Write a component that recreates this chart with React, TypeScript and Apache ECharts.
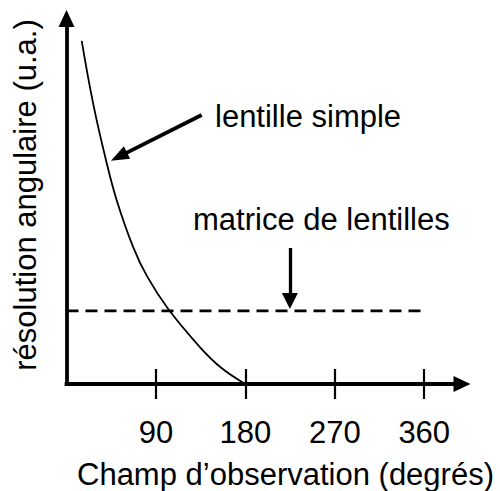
import { useEffect, useRef } from "react";
import * as echarts from "echarts";

// ---- data ----
const curveX = [15.3, 27.0, 39.7, 50.5, 66.9, 81.0, 102.4, 134.2, 155.0, 180];
const curveY = [93.9, 76.5, 61.3, 50.3, 37.6, 29.5, 20.5, 10.1, 4.6, 0];
const arrayX = [0, 360];
const arrayY = [20, 20];
const tickValues = [90, 180, 270, 360];
const singleArrowFrom = [136, 73.6];
const singleArrowTo = [52.8, 62.2];
const arrayArrowFrom = [224.8, 37.2];
const arrayArrowTo = [224.8, 22.7];
const xTitle = "Champ d\u2019observation (degrés)";
const yTitle = "résolution angulaire (u.a.)";
const singleLabel = "lentille simple";
const arrayLabel = "matrice de lentilles";

const FONT = "'Liberation Sans', Arial, sans-serif";
const FS = 31;

export default function App() {
  const ref = useRef<HTMLDivElement>(null);
  useEffect(() => {
    if (!ref.current) return;
    const chart = echarts.init(ref.current, null, { renderer: "svg" });
    const grid = { left: 66.5, right: 38, top: 18.5, bottom: 107 };
    const xCommon = { type: "value", min: 0, max: 398, splitLine: { show: false } };
    const yCommon = { type: "value", min: 0, max: 100, splitLine: { show: false } };
    chart.setOption({
      animation: false,
      backgroundColor: "#ffffff",
      grid: [grid, grid],
      xAxis: [
        {
          ...xCommon,
          gridIndex: 0,
          axisLine: {
            show: true,
            symbol: ["none", "triangle"],
            symbolSize: [16, 17],
            lineStyle: { color: "#000", width: 3.8, cap: "square" },
          },
          axisTick: {
            show: true,
            inside: false,
            length: 15,
            customValues: tickValues,
            lineStyle: { color: "#000", width: 2.2 },
          },
          axisLabel: {
            show: true,
            margin: 33,
            customValues: tickValues,
            color: "#000",
            fontSize: FS,
            fontFamily: FONT,
          },
        },
        {
          ...xCommon,
          gridIndex: 1,
          axisLine: { show: false },
          axisTick: {
            show: true,
            inside: true,
            length: 15,
            customValues: tickValues,
            lineStyle: { color: "#000", width: 2.2 },
          },
          axisLabel: { show: false },
        },
      ],
      yAxis: [
        {
          ...yCommon,
          gridIndex: 0,
          axisLine: {
            show: true,
            symbol: ["none", "triangle"],
            symbolSize: [16, 17],
            lineStyle: { color: "#000", width: 3.8, cap: "square" },
          },
          axisTick: { show: false },
          axisLabel: { show: false },
        },
        { ...yCommon, gridIndex: 1, show: false },
      ],
      series: [
        {
          type: "line",
          xAxisIndex: 0,
          yAxisIndex: 0,
          data: curveX.map((x, i) => [x, curveY[i]]),
          smooth: 0.4,
          showSymbol: false,
          symbol: "none",
          lineStyle: { color: "#000", width: 1.8 },
          silent: true,
          markLine: {
            silent: true,
            animation: false,
            label: { show: false },
            data: [
              [
                {
                  coord: singleArrowFrom,
                  symbol: "none",
                  lineStyle: { color: "#000", width: 3.8, type: "solid" },
                },
                { coord: singleArrowTo, symbol: "triangle", symbolSize: [14, 18] },
              ],
              [
                {
                  coord: arrayArrowFrom,
                  symbol: "none",
                  lineStyle: { color: "#000", width: 3.3, type: "solid" },
                },
                { coord: arrayArrowTo, symbol: "triangle", symbolSize: [16, 16] },
              ],
            ],
          },
        },
        {
          type: "line",
          xAxisIndex: 0,
          yAxisIndex: 0,
          data: arrayX.map((x, i) => [x, arrayY[i]]),
          showSymbol: false,
          symbol: "none",
          lineStyle: { color: "#000", width: 2.8, type: [12, 7] },
          silent: true,
        },
      ],
      graphic: [
        {
          type: "text",
          x: 215,
          y: 116.3,
          style: {
            text: singleLabel,
            fill: "#000",
            font: `${FS}px ${FONT}`,
            textAlign: "left",
            textVerticalAlign: "middle",
          },
        },
        {
          type: "text",
          x: 193,
          y: 219.3,
          style: {
            text: arrayLabel,
            fill: "#000",
            font: `${FS}px ${FONT}`,
            textAlign: "left",
            textVerticalAlign: "middle",
          },
        },
        {
          type: "text",
          x: 285.5,
          y: 474.3,
          style: {
            text: xTitle,
            fill: "#000",
            font: `${FS}px ${FONT}`,
            textAlign: "center",
            textVerticalAlign: "middle",
          },
        },
        {
          type: "text",
          x: 25.3,
          y: 195,
          rotation: Math.PI / 2,
          style: {
            text: yTitle,
            fill: "#000",
            font: `${FS}px ${FONT}`,
            textAlign: "center",
            textVerticalAlign: "middle",
          },
        },
      ],
    });
    return () => chart.dispose();
  }, []);
  return (
    <div
      ref={ref}
      style={{ position: "fixed", left: 0, top: 0, width: 500, height: 491, background: "#fff" }}
    />
  );
}
